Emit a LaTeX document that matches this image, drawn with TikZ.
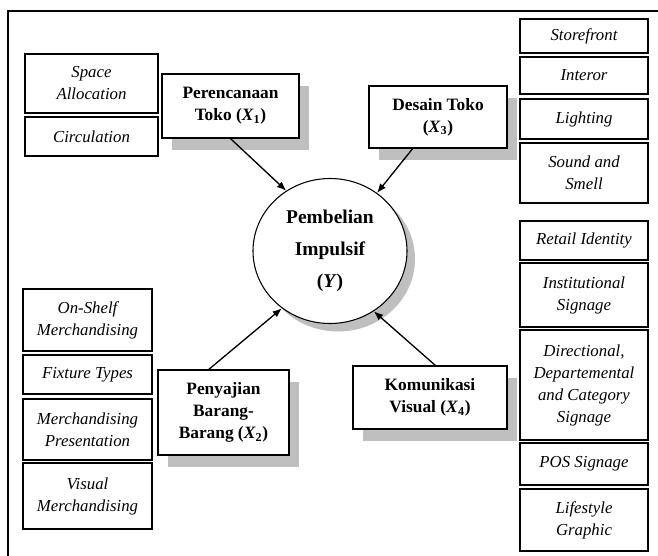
\documentclass[tikz,border=0pt]{standalone}
\usepackage{fontspec}
\setmainfont{Liberation Serif}
\usetikzlibrary{shadows,arrows.meta,shapes.geometric}

\begin{document}
\begin{tikzpicture}[x=0.75pt,y=-0.75pt,>={Latex[length=7pt,width=5.5pt]},
  item/.style 2 args={draw, line width=0.9pt, font=\fontsize{12.6}{16.5}\selectfont\itshape,
    align=center, inner sep=1pt, minimum width=#1, minimum height=#2},
  var/.style 2 args={draw, line width=0.9pt, fill=white, font=\fontsize{13}{16.5}\selectfont\bfseries,
    align=center, inner sep=1pt, minimum width=#1, minimum height=#2,
    drop shadow={shadow xshift=7.5pt, shadow yshift=-9pt, fill=black!25, opacity=1}},
  link/.style={->, line width=1pt}]
 \useasboundingbox (0,0) rectangle (658,556);
 \draw[line width=1.2pt] (8,570) -- (8,11) -- (670,11);
 % dependent variable
 \node[ellipse, draw, line width=0.8pt, fill=white, minimum width=115.5pt, minimum height=108.75pt,
   font=\fontsize{14.6}{24}\selectfont\bfseries, align=center,
   drop shadow={shadow xshift=6pt, shadow yshift=-6pt, fill=black!25, opacity=1}]
   (y) at (330,251) {Pembelian\\Impulsif\\(\textit{Y})};
 % X1
 \node[var={102.75pt}{48pt}] (p1) at (230.5,106) {Perencanaan\\Toko (\textit{X}\textsubscript{1})};
 \node[item={99.75pt}{44.25pt}] (sa) at (91.5,83.5) {Space\\Allocation};
 \node[item={99.75pt}{29.25pt}] (circ) at (91.5,136.5) {Circulation};
 % X3
 \node[var={103.5pt}{46.5pt}] (d3) at (438,117) {Desain Toko\\(\textit{X}\textsubscript{3})};
 \node[item={96pt}{25.5pt}] (store) at (584,36) {Storefront};
 \node[item={96pt}{27.75pt}] (inter) at (584,75.5) {Interor};
 \node[item={96pt}{30pt}] (light) at (584,119) {Lighting};
 \node[item={96pt}{45pt}] (sound) at (584,173) {Sound and\\Smell};
 % X2
 \node[var={98.25pt}{63.75pt}] (p2) at (223.5,412.5) {Penyajian\\Barang-\\Barang (\textit{X}\textsubscript{2})};
 \node[item={96.75pt}{46.5pt}] (shelf) at (87.5,320) {On-Shelf\\Merchandising};
 \node[item={96.75pt}{29.25pt}] (fix) at (87.5,374.5) {Fixture Types};
 \node[item={96.75pt}{45.75pt}] (pres) at (87.5,429.5) {Merchandising\\Presentation};
 \node[item={96.75pt}{49.5pt}] (vis) at (87.5,496) {Visual\\Merchandising};
 % X4
 \node[var={115.5pt}{47.25pt}] (k4) at (430,397.5) {Komunikasi\\Visual (\textit{X}\textsubscript{4})};
 \node[item={96pt}{29.25pt}] (ret) at (584,240.5) {Retail Identity};
 \node[item={96pt}{48pt}] (inst) at (584,295) {Institutional\\Signage};
 \node[item={96pt}{82.5pt}] (dir) at (584,385) {Directional,\\Departemental\\and Category\\Signage};
 \node[item={96pt}{31.5pt}] (pos) at (584,464) {POS Signage};
 \node[item={96pt}{46.5pt}] (life) at (584,520) {Lifestyle\\Graphic};
 % arrows
 \draw[link] (p1.south) -- (y.126);
 \draw[link] ([xshift=-19pt]d3.south) -- (y.51);
 \draw[link] ([xshift=-11pt]p2.north) -- (y.230);
 \draw[link] ([xshift=4pt]k4.north) -- (y.306);
\end{tikzpicture}
\end{document}
